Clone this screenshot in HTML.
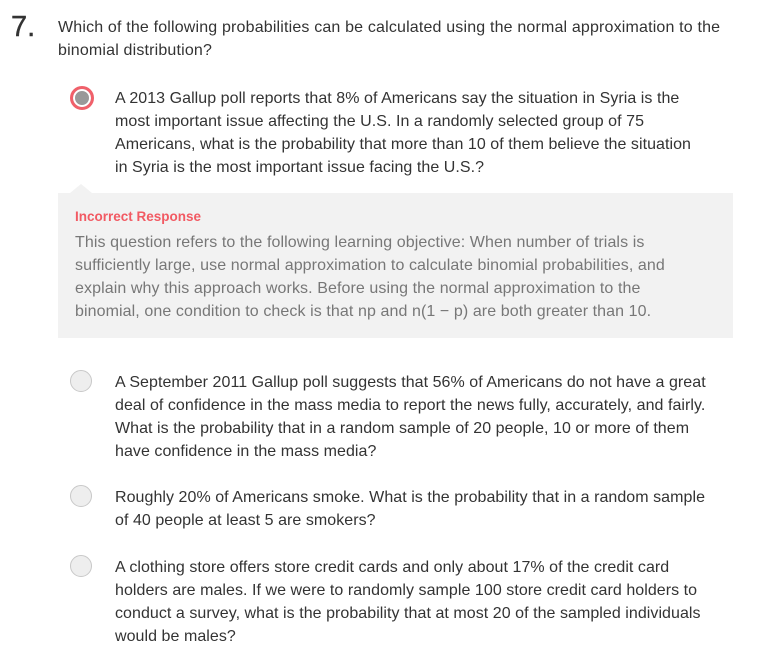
<!DOCTYPE html>
<html><head><meta charset="utf-8">
<style>
body{margin:0;width:760px;height:659px;background:#fff;font-family:"Liberation Sans",sans-serif;color:#333;position:relative;overflow:hidden}
.num{position:absolute;left:11px;top:11px;font-size:29px;color:#333;-webkit-text-stroke:0.4px #333}
.blk{position:absolute;font-size:16px;line-height:23px;white-space:nowrap;letter-spacing:0.05px}
.radio{position:absolute;width:20px;height:20px;border-radius:50%;background:#eee;border:1px solid #c8c8c8}
.radio.sel{width:18px;height:18px;border:3px solid #f0606a;background:#999;box-shadow:inset 0 0 0 2px #fff}
.fb{position:absolute;left:58px;top:193px;width:675px;height:145px;background:#f2f2f2}
.tri{position:absolute;left:70px;top:184px;width:0;height:0;border-left:11px solid transparent;border-right:11px solid transparent;border-bottom:9px solid #f2f2f2}
.fbt{position:absolute;left:75px;top:209px;font-size:13.5px;font-weight:bold;color:#f25a63}
.fbb{position:absolute;left:75px;top:231px;font-size:16px;line-height:23px;color:#777;white-space:nowrap;letter-spacing:0.09px}
#q{letter-spacing:0.17px}
</style></head><body>
<div class="num">7.</div>
<div class="blk" id="q" style="left:58px;top:16px">Which of the following probabilities can be calculated using the normal approximation to the<br>binomial distribution?</div>

<div class="radio sel" style="left:70px;top:86px"></div>
<div class="blk" style="left:115px;top:87px">A 2013 Gallup poll reports that 8% of Americans say the situation in Syria is the<br>most important issue affecting the U.S. In a randomly selected group of 75<br>Americans, what is the probability that more than 10 of them believe the situation<br>in Syria is the most important issue facing the U.S.?</div>

<div class="tri"></div>
<div class="fb"></div>
<div class="fbt">Incorrect Response</div>
<div class="fbb">This question refers to the following learning objective: When number of trials is<br>sufficiently large, use normal approximation to calculate binomial probabilities, and<br>explain why this approach works. Before using the normal approximation to the<br>binomial, one condition to check is that np and n(1 − p) are both greater than 10.</div>

<div class="radio" style="left:70px;top:370px"></div>
<div class="blk" style="left:115px;top:371px">A September 2011 Gallup poll suggests that 56% of Americans do not have a great<br>deal of confidence in the mass media to report the news fully, accurately, and fairly.<br>What is the probability that in a random sample of 20 people, 10 or more of them<br>have confidence in the mass media?</div>

<div class="radio" style="left:70px;top:485px"></div>
<div class="blk" style="left:115px;top:486px">Roughly 20% of Americans smoke. What is the probability that in a random sample<br>of 40 people at least 5 are smokers?</div>

<div class="radio" style="left:70px;top:555px"></div>
<div class="blk" style="left:115px;top:556px">A clothing store offers store credit cards and only about 17% of the credit card<br>holders are males. If we were to randomly sample 100 store credit card holders to<br>conduct a survey, what is the probability that at most 20 of the sampled individuals<br>would be males?</div>
</body></html>
